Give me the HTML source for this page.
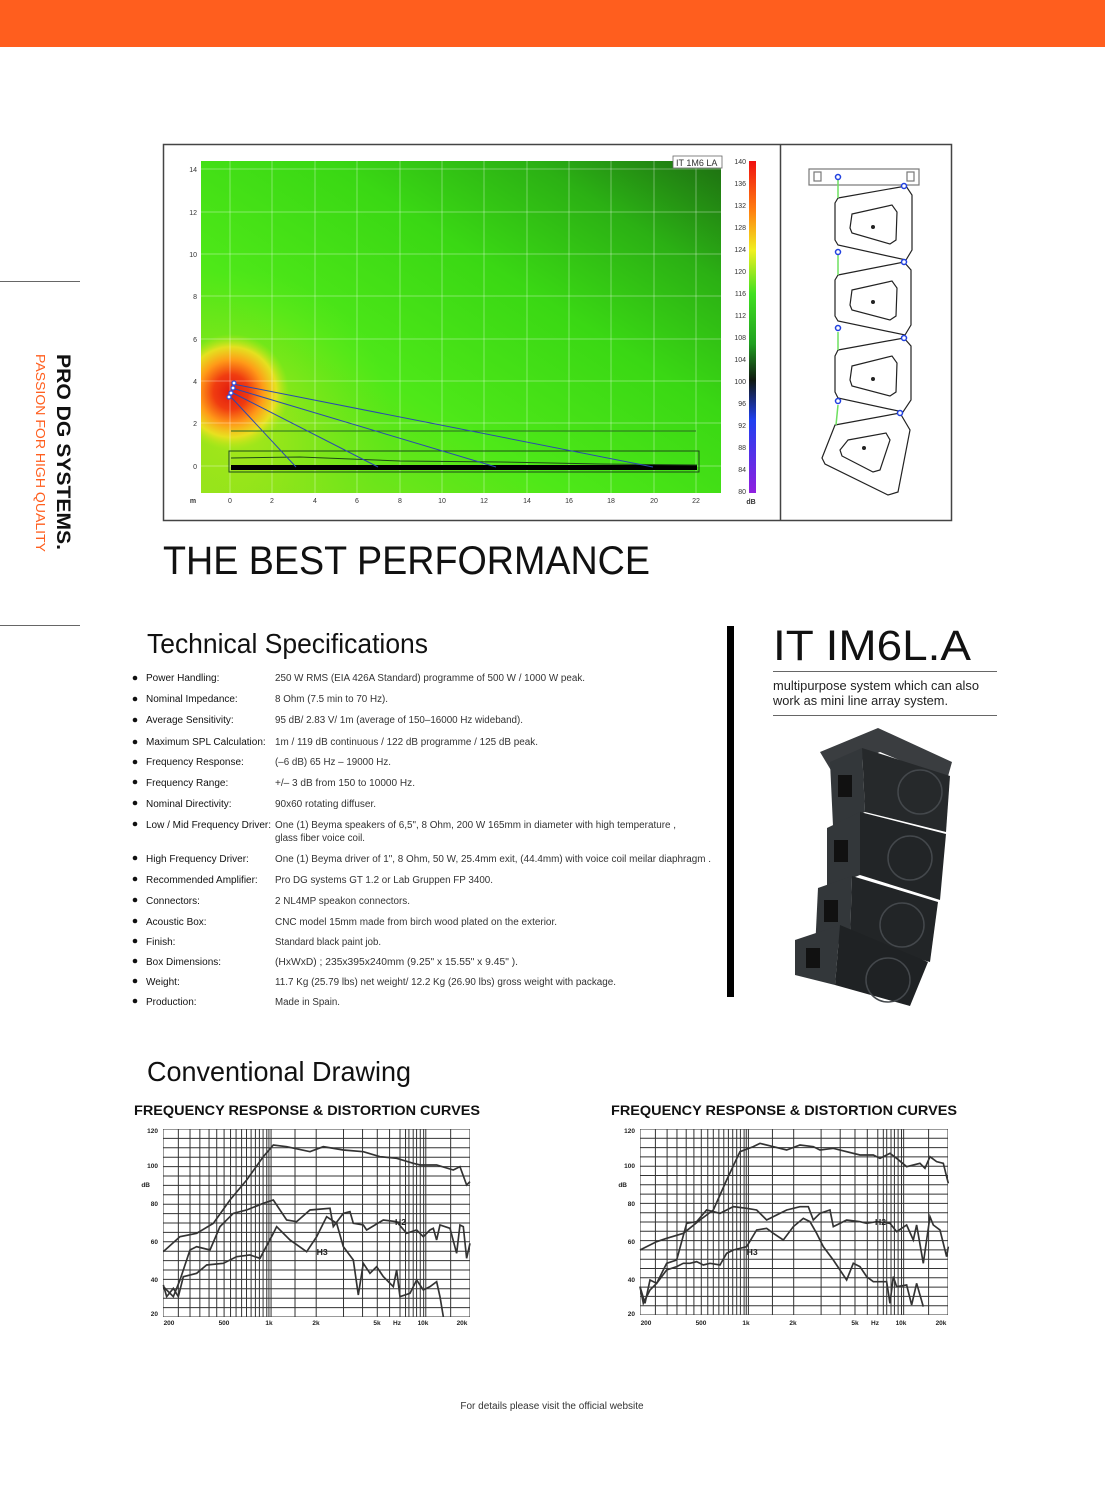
<!DOCTYPE html>
<html><head><meta charset="utf-8"><style>
html,body{margin:0;padding:0;background:#fff;}
svg{display:block;}
</style></head><body>
<svg width="1105" height="1489" viewBox="0 0 1105 1489" xmlns="http://www.w3.org/2000/svg" font-family="Liberation Sans, sans-serif">
<defs>
<linearGradient id="bg" x1="0" y1="1" x2="1" y2="0">
<stop offset="0" stop-color="#8ee21c"/><stop offset="0.35" stop-color="#4ee818"/><stop offset="0.62" stop-color="#3ad814"/><stop offset="0.82" stop-color="#2bb014"/><stop offset="1" stop-color="#1e7012"/>
</linearGradient>
<radialGradient id="hot" cx="231" cy="392" r="58" gradientUnits="userSpaceOnUse">
<stop offset="0" stop-color="#e01810"/><stop offset="0.3" stop-color="#f03c10"/><stop offset="0.55" stop-color="#ff9a18"/><stop offset="0.78" stop-color="#f0e020" stop-opacity="0.9"/><stop offset="1" stop-color="#b8e818" stop-opacity="0"/>
</radialGradient>
<radialGradient id="glow" cx="240" cy="420" r="150" gradientUnits="userSpaceOnUse">
<stop offset="0" stop-color="#d8e818" stop-opacity="0.6"/><stop offset="1" stop-color="#8ee81a" stop-opacity="0"/>
</radialGradient>
<linearGradient id="cbar" x1="0" y1="0" x2="0" y2="1">
<stop offset="0" stop-color="#f01010"/><stop offset="0.15" stop-color="#ff8010"/><stop offset="0.27" stop-color="#f0f020"/><stop offset="0.4" stop-color="#40e020"/><stop offset="0.55" stop-color="#20a020"/><stop offset="0.66" stop-color="#101810"/><stop offset="0.78" stop-color="#2040f0"/><stop offset="1" stop-color="#9020e0"/>
</linearGradient>
</defs>

<rect x="0" y="0" width="1105" height="47" fill="#ff5e1e"/>

<line x1="0" y1="281.5" x2="80" y2="281.5" stroke="#666" stroke-width="1"/>
<line x1="0" y1="625.5" x2="80" y2="625.5" stroke="#666" stroke-width="1"/>
<text transform="translate(57,354) rotate(90)" font-size="19" font-weight="bold" fill="#111" textLength="196" lengthAdjust="spacingAndGlyphs">PRO DG SYSTEMS.</text>
<text transform="translate(36,354) rotate(90)" font-size="12.5" fill="#ff5e1e" textLength="198" lengthAdjust="spacingAndGlyphs">PASSION FOR HIGH QUALITY</text>

<rect x="163.5" y="144.5" width="788" height="376" fill="#fff" stroke="#444" stroke-width="1.5"/>
<line x1="780.5" y1="144" x2="780.5" y2="521" stroke="#444" stroke-width="1.5"/>
<rect x="201" y="161" width="520" height="332" fill="url(#bg)"/>
<rect x="201" y="161" width="520" height="332" fill="url(#glow)"/>
<rect x="201" y="161" width="520" height="332" fill="url(#hot)"/>
<g stroke="#ffffff" stroke-opacity="0.35" stroke-width="1">
<line x1="230" y1="161" x2="230" y2="493"/><line x1="272" y1="161" x2="272" y2="493"/><line x1="315" y1="161" x2="315" y2="493"/><line x1="357" y1="161" x2="357" y2="493"/><line x1="400" y1="161" x2="400" y2="493"/><line x1="442" y1="161" x2="442" y2="493"/><line x1="484" y1="161" x2="484" y2="493"/><line x1="527" y1="161" x2="527" y2="493"/><line x1="569" y1="161" x2="569" y2="493"/><line x1="611" y1="161" x2="611" y2="493"/><line x1="654" y1="161" x2="654" y2="493"/><line x1="696" y1="161" x2="696" y2="493"/>
<line x1="201" y1="169" x2="721" y2="169"/><line x1="201" y1="212" x2="721" y2="212"/><line x1="201" y1="254" x2="721" y2="254"/><line x1="201" y1="296" x2="721" y2="296"/><line x1="201" y1="339" x2="721" y2="339"/><line x1="201" y1="381" x2="721" y2="381"/><line x1="201" y1="423" x2="721" y2="423"/><line x1="201" y1="466" x2="721" y2="466"/>
</g>
<line x1="231" y1="431" x2="696" y2="431" stroke="#2a6a20" stroke-width="1"/>
<rect x="229" y="451" width="470" height="21" fill="none" stroke="#1d4a16" stroke-width="1"/>
<rect x="231" y="465" width="466" height="5" fill="#000"/>
<polyline points="231,458 300,457 400,461 500,462 600,464 697,465" fill="none" stroke="#1d4a16" stroke-width="1"/>
<g stroke="#2a4ab0" stroke-width="1" fill="none">
<line x1="233" y1="384" x2="653" y2="467"/><line x1="232" y1="388" x2="496" y2="467"/><line x1="231" y1="392" x2="378" y2="467"/><line x1="230" y1="396" x2="296" y2="467"/>
</g>
<g fill="#fff" stroke="#3050e0" stroke-width="1.2"><circle cx="234" cy="383" r="2"/><circle cx="233" cy="388" r="2"/><circle cx="231" cy="393" r="2"/><circle cx="229" cy="397" r="2"/></g>
<rect x="673" y="156" width="49" height="12" fill="#fff" stroke="#666" stroke-width="0.8"/>
<text x="676" y="166" font-size="9" fill="#333">IT 1M6 LA</text>
<g font-size="7" fill="#333" text-anchor="end">
<text x="197" y="172">14</text><text x="197" y="215">12</text><text x="197" y="257">10</text><text x="197" y="299">8</text><text x="197" y="342">6</text><text x="197" y="384">4</text><text x="197" y="426">2</text><text x="197" y="469">0</text>
</g>
<g font-size="7" fill="#333" text-anchor="middle">
<text x="193" y="503" font-weight="bold">m</text><text x="230" y="503">0</text><text x="272" y="503">2</text><text x="315" y="503">4</text><text x="357" y="503">6</text><text x="400" y="503">8</text><text x="442" y="503">10</text><text x="484" y="503">12</text><text x="527" y="503">14</text><text x="569" y="503">16</text><text x="611" y="503">18</text><text x="654" y="503">20</text><text x="696" y="503">22</text>
<text x="751" y="504" font-weight="bold">dB</text>
</g>
<rect x="749" y="161" width="7" height="332" fill="url(#cbar)"/>
<g font-size="7" fill="#333" text-anchor="end">
<text x="746" y="164">140</text><text x="746" y="186">136</text><text x="746" y="208">132</text><text x="746" y="230">128</text><text x="746" y="252">124</text><text x="746" y="274">120</text><text x="746" y="296">116</text><text x="746" y="318">112</text><text x="746" y="340">108</text><text x="746" y="362">104</text><text x="746" y="384">100</text><text x="746" y="406">96</text><text x="746" y="428">92</text><text x="746" y="450">88</text><text x="746" y="472">84</text><text x="746" y="494">80</text>
</g>

<g fill="none" stroke="#222" stroke-width="1.2">
<rect x="809" y="169" width="110" height="16" stroke="#777"/>
<rect x="814" y="172" width="7" height="9" stroke="#777"/><rect x="907" y="172" width="7" height="9" stroke="#777"/>
<polygon points="838,198 906,186 912,195 912,250 906,260 838,245 835,240 835,203"/>
<polygon points="852,214 892,205 897,212 896,240 890,244 852,233 850,228"/>
<polygon points="838,275 904,262 911,270 911,325 905,335 838,321 835,316 835,280"/>
<polygon points="852,290 892,281 897,288 896,316 890,320 852,310 850,305"/>
<polygon points="838,350 904,338 911,346 911,400 903,412 838,398 835,392 835,356"/>
<polygon points="852,366 892,356 897,363 896,392 890,396 852,386 850,380"/>
<polygon points="835,425 900,413 910,430 898,492 888,495 825,464 822,458"/>
<polygon points="848,440 886,433 890,440 880,470 873,472 842,456 840,450"/>
</g>
<g fill="#222"><circle cx="873" cy="227" r="2"/><circle cx="873" cy="302" r="2"/><circle cx="873" cy="379" r="2"/><circle cx="864" cy="448" r="2"/></g>
<g stroke="#6ee060" stroke-width="1.5"><line x1="838" y1="180" x2="838" y2="198"/><line x1="838" y1="255" x2="838" y2="275"/><line x1="838" y1="332" x2="838" y2="350"/><line x1="838" y1="405" x2="836" y2="425"/></g>
<g fill="#fff" stroke="#2040e0" stroke-width="1.5"><circle cx="838" cy="177" r="2.5"/><circle cx="904" cy="186" r="2.5"/><circle cx="838" cy="252" r="2.5"/><circle cx="904" cy="262" r="2.5"/><circle cx="838" cy="328" r="2.5"/><circle cx="904" cy="338" r="2.5"/><circle cx="838" cy="401" r="2.5"/><circle cx="900" cy="413" r="2.5"/></g>

<text x="163" y="574" font-size="40" fill="#111" textLength="487" lengthAdjust="spacingAndGlyphs">THE BEST PERFORMANCE</text>
<text x="147" y="653" font-size="28" fill="#111" textLength="281" lengthAdjust="spacingAndGlyphs">Technical Specifications</text>
<text x="147" y="1081" font-size="28" fill="#111" textLength="264" lengthAdjust="spacingAndGlyphs">Conventional Drawing</text>

<g font-size="10" fill="#111" font-family="Liberation Sans Narrow, Liberation Sans, sans-serif">
<g fill="#111"><circle cx="135" cy="678" r="2.3"/><circle cx="135" cy="699" r="2.3"/><circle cx="135" cy="720" r="2.3"/><circle cx="135" cy="742" r="2.3"/><circle cx="135" cy="762" r="2.3"/><circle cx="135" cy="782" r="2.3"/><circle cx="135" cy="803" r="2.3"/><circle cx="135" cy="824" r="2.3"/><circle cx="135" cy="858" r="2.3"/><circle cx="135" cy="879" r="2.3"/><circle cx="135" cy="900" r="2.3"/><circle cx="135" cy="921" r="2.3"/><circle cx="135" cy="941" r="2.3"/><circle cx="135" cy="961" r="2.3"/><circle cx="135" cy="981" r="2.3"/><circle cx="135" cy="1001" r="2.3"/></g>
<text x="146" y="681">Power Handling:</text>
<text x="146" y="702">Nominal Impedance:</text>
<text x="146" y="723">Average Sensitivity:</text>
<text x="146" y="745">Maximum SPL Calculation:</text>
<text x="146" y="765">Frequency Response:</text>
<text x="146" y="786">Frequency Range:</text>
<text x="146" y="807">Nominal Directivity:</text>
<text x="146" y="828">Low / Mid Frequency Driver:</text>
<text x="146" y="862">High Frequency Driver:</text>
<text x="146" y="883">Recommended Amplifier:</text>
<text x="146" y="904">Connectors:</text>
<text x="146" y="925">Acoustic Box:</text>
<text x="146" y="945">Finish:</text>
<text x="146" y="965">Box Dimensions:</text>
<text x="146" y="985">Weight:</text>
<text x="146" y="1005">Production:</text>
</g>
<g font-size="10" fill="#333" font-family="Liberation Sans Narrow, Liberation Sans, sans-serif">
<text x="275" y="681" textLength="310" lengthAdjust="spacingAndGlyphs">250 W RMS (EIA 426A Standard) programme of 500 W / 1000 W peak.</text>
<text x="275" y="702" textLength="113" lengthAdjust="spacingAndGlyphs">8 Ohm (7.5 min to 70 Hz).</text>
<text x="275" y="723" textLength="248" lengthAdjust="spacingAndGlyphs">95 dB/ 2.83 V/ 1m (average of 150–16000 Hz wideband).</text>
<text x="275" y="745" textLength="263" lengthAdjust="spacingAndGlyphs">1m / 119 dB continuous / 122 dB programme / 125 dB peak.</text>
<text x="275" y="765" textLength="116" lengthAdjust="spacingAndGlyphs">(–6 dB) 65 Hz – 19000 Hz.</text>
<text x="275" y="786" textLength="140" lengthAdjust="spacingAndGlyphs">+/– 3 dB from 150 to 10000 Hz.</text>
<text x="275" y="807" textLength="101" lengthAdjust="spacingAndGlyphs">90x60 rotating diffuser.</text>
<text x="275" y="828" textLength="401" lengthAdjust="spacingAndGlyphs">One (1) Beyma speakers of 6,5", 8 Ohm, 200 W 165mm in diameter with high temperature ,</text>
<text x="275" y="841" textLength="90" lengthAdjust="spacingAndGlyphs">glass fiber voice coil.</text>
<text x="275" y="862" textLength="436" lengthAdjust="spacingAndGlyphs">One (1) Beyma driver of 1", 8 Ohm, 50 W, 25.4mm exit, (44.4mm) with voice coil meilar diaphragm .</text>
<text x="275" y="883" textLength="218" lengthAdjust="spacingAndGlyphs">Pro DG systems  GT 1.2 or Lab Gruppen FP 3400.</text>
<text x="275" y="904" textLength="135" lengthAdjust="spacingAndGlyphs">2 NL4MP speakon connectors.</text>
<text x="275" y="925" textLength="282" lengthAdjust="spacingAndGlyphs">CNC model 15mm made from birch wood plated on the exterior.</text>
<text x="275" y="945" textLength="106" lengthAdjust="spacingAndGlyphs">Standard black paint job.</text>
<text x="275" y="965" textLength="243" lengthAdjust="spacingAndGlyphs">(HxWxD) ; 235x395x240mm (9.25"  x 15.55"  x 9.45"  ).</text>
<text x="275" y="985" textLength="341" lengthAdjust="spacingAndGlyphs">11.7 Kg (25.79 lbs) net weight/ 12.2 Kg (26.90 lbs) gross weight with package.</text>
<text x="275" y="1005" textLength="65" lengthAdjust="spacingAndGlyphs">Made in Spain.</text>
</g>

<rect x="727" y="626" width="7" height="371" fill="#000"/>
<text x="773" y="660" font-size="43" fill="#111" textLength="198" lengthAdjust="spacingAndGlyphs">IT IM6L.A</text>
<line x1="773" y1="671.5" x2="997" y2="671.5" stroke="#666" stroke-width="1"/>
<text x="773" y="690" font-size="12.5" fill="#222" textLength="206" lengthAdjust="spacingAndGlyphs">multipurpose system which can also</text>
<text x="773" y="705" font-size="12.5" fill="#222" textLength="175" lengthAdjust="spacingAndGlyphs">work as mini line array system.</text>
<line x1="773" y1="715.5" x2="997" y2="715.5" stroke="#666" stroke-width="1"/>

<g>
<polygon points="820,752 878,728 952,762 947,780 880,752 832,772" fill="#3a3d40"/>
<polygon points="830,762 862,748 865,812 833,826" fill="#33373a"/>
<polygon points="862,748 950,776 946,832 865,812" fill="#26292b"/>
<polygon points="827,828 860,812 860,875 827,888" fill="#33373a"/>
<polygon points="860,812 946,834 940,900 860,875" fill="#222527"/>
<polygon points="818,888 852,876 850,940 815,950" fill="#33373a"/>
<polygon points="852,876 938,902 930,962 850,940" fill="#222527"/>
<polygon points="795,940 840,925 835,985 795,975" fill="#33373a"/>
<polygon points="840,925 928,962 910,1006 835,985" fill="#1f2224"/>
<g fill="none" stroke="#44484c" stroke-width="1.5">
<circle cx="920" cy="792" r="22"/><circle cx="910" cy="858" r="22"/><circle cx="902" cy="925" r="22"/><circle cx="888" cy="980" r="22"/>
</g>
<g fill="#111"><rect x="838" y="775" width="14" height="22"/><rect x="834" y="840" width="14" height="22"/><rect x="824" y="900" width="14" height="22"/><rect x="806" y="948" width="14" height="20"/></g>
</g>

<g font-size="13.5" font-weight="bold" fill="#111">
<text x="134" y="1115" textLength="346" lengthAdjust="spacingAndGlyphs">FREQUENCY RESPONSE &amp; DISTORTION CURVES</text>
<text x="611" y="1115" textLength="346" lengthAdjust="spacingAndGlyphs">FREQUENCY RESPONSE &amp; DISTORTION CURVES</text>
</g>

<svg x="163" y="1129" width="307" height="188" viewBox="0 0 1000 1000" preserveAspectRatio="none">
<g stroke="#333" stroke-width="1" fill="none">
<rect x="0" y="0" width="1000" height="1000" vector-effect="non-scaling-stroke"/>
<path vector-effect="non-scaling-stroke" d="M0 50H1000M0 100H1000M0 150H1000M0 200H1000M0 250H1000M0 300H1000M0 350H1000M0 400H1000M0 450H1000M0 500H1000M0 550H1000M0 600H1000M0 650H1000M0 700H1000M0 750H1000M0 800H1000M0 850H1000M0 900H1000M0 950H1000"/>
<path vector-effect="non-scaling-stroke" d="M50 0V1000M88 0V1000M120 0V1000M150 0V1000M175 0V1000M199 0V1000M220 0V1000M238 0V1000M256 0V1000M272 0V1000M287 0V1000M301 0V1000M314 0V1000M326 0V1000M338 0V1000M345 0V1000M352 0V1000M430 0V1000M499 0V1000M588 0V1000M650 0V1000M698 0V1000M738 0V1000M772 0V1000M790 0V1000M801 0V1000M815 0V1000M826 0V1000M838 0V1000M849 0V1000M856 0V1000M937 0V1000"/>
</g>
</svg>
<svg x="640" y="1129" width="308" height="186" viewBox="0 0 1000 1000" preserveAspectRatio="none">
<g stroke="#333" stroke-width="1" fill="none">
<rect x="0" y="0" width="1000" height="1000" vector-effect="non-scaling-stroke"/>
<path vector-effect="non-scaling-stroke" d="M0 50H1000M0 100H1000M0 150H1000M0 200H1000M0 250H1000M0 300H1000M0 350H1000M0 400H1000M0 450H1000M0 500H1000M0 550H1000M0 600H1000M0 650H1000M0 700H1000M0 750H1000M0 800H1000M0 850H1000M0 900H1000M0 950H1000"/>
<path vector-effect="non-scaling-stroke" d="M50 0V1000M88 0V1000M120 0V1000M150 0V1000M175 0V1000M199 0V1000M220 0V1000M238 0V1000M256 0V1000M272 0V1000M287 0V1000M301 0V1000M314 0V1000M326 0V1000M338 0V1000M345 0V1000M352 0V1000M430 0V1000M499 0V1000M588 0V1000M650 0V1000M698 0V1000M738 0V1000M772 0V1000M790 0V1000M801 0V1000M815 0V1000M826 0V1000M838 0V1000M849 0V1000M856 0V1000M937 0V1000"/>
</g>
</svg>

<g transform="translate(130,1100) scale(0.3333)" fill="none" stroke="#333" stroke-width="5">
<polyline points="100,455 150,410 200,400 250,370 300,300 350,240 400,170 430,135 470,140 540,155 580,140 640,150 700,155 750,170 800,175 850,190 870,195 920,195 970,210 990,200 1010,255 1020,245"/>
<polyline points="100,560 130,590 150,540 180,450 200,440 240,450 270,380 310,340 350,330 400,310 430,300 470,360 500,365 540,330 600,325 610,380 640,340 660,335 670,370 700,375 710,390 760,360 800,365 830,400 860,390 880,410 900,390 910,385 920,420 930,375 960,385 980,460 990,375 1000,380 1010,475 1020,430"/>
<polyline points="100,555 110,590 130,565 145,590 160,530 200,520 230,495 280,490 320,470 360,465 390,475 430,400 440,380 480,420 530,455 560,410 590,350 620,370 640,440 670,480 685,585 700,490 720,520 740,500 760,530 790,560 800,510 810,590 840,580 860,540 880,570 900,560 920,545 930,590 940,650"/>
<text x="795" y="375" font-size="26" font-weight="bold" fill="#222" stroke="none">H2</text>
<text x="560" y="465" font-size="26" font-weight="bold" fill="#222" stroke="none">H3</text>
</g>
<g transform="translate(600,1100) scale(0.3333)" fill="none" stroke="#333" stroke-width="5">
<polyline points="120,450 170,425 200,415 250,400 300,360 340,330 380,240 420,155 460,140 480,130 520,140 560,150 600,135 640,140 660,150 700,145 740,155 780,165 820,165 840,175 870,160 890,175 920,200 960,190 975,205 990,170 1010,185 1030,190 1045,250"/>
<polyline points="120,560 135,610 150,540 170,550 200,490 230,480 260,370 290,365 320,330 360,340 400,320 440,325 470,330 500,360 530,345 560,330 600,320 625,320 640,360 660,340 690,330 700,380 720,370 740,360 780,365 800,370 830,365 870,370 890,395 920,375 940,420 950,375 970,490 990,350 1000,375 1020,390 1040,470 1045,440"/>
<polyline points="120,560 130,610 150,570 170,550 200,510 230,500 250,490 270,490 290,485 310,495 330,490 360,495 380,460 400,450 440,440 470,390 500,385 520,400 550,420 580,380 610,355 630,365 650,400 670,440 700,480 720,510 740,540 760,490 780,500 800,530 820,545 860,545 870,610 880,530 890,560 920,555 935,615 950,550 970,620"/>
<text x="825" y="375" font-size="26" font-weight="bold" fill="#222" stroke="none">H2</text>
<text x="440" y="465" font-size="26" font-weight="bold" fill="#222" stroke="none">H3</text>
</g>

<g font-size="6.5" font-weight="bold" fill="#222">
<g text-anchor="end">
<text x="158" y="1133">120</text><text x="158" y="1168">100</text><text x="150" y="1187">dB</text><text x="158" y="1206">80</text><text x="158" y="1244">60</text><text x="158" y="1282">40</text><text x="158" y="1316">20</text>
<text x="635" y="1133">120</text><text x="635" y="1168">100</text><text x="627" y="1187">dB</text><text x="635" y="1206">80</text><text x="635" y="1244">60</text><text x="635" y="1282">40</text><text x="635" y="1316">20</text>
</g>
<g text-anchor="middle">
<text x="169" y="1325">200</text><text x="224" y="1325">500</text><text x="269" y="1325">1k</text><text x="316" y="1325">2k</text><text x="377" y="1325">5k</text><text x="397" y="1325">Hz</text><text x="423" y="1325">10k</text><text x="462" y="1325">20k</text>
<text x="646" y="1325">200</text><text x="701" y="1325">500</text><text x="746" y="1325">1k</text><text x="793" y="1325">2k</text><text x="855" y="1325">5k</text><text x="875" y="1325">Hz</text><text x="901" y="1325">10k</text><text x="941" y="1325">20k</text>
</g>
</g>

<text x="552" y="1409" font-size="10" fill="#333" text-anchor="middle" font-family="Liberation Sans Narrow, Liberation Sans, sans-serif">For details please visit the official website</text>
</svg>
</body></html>
